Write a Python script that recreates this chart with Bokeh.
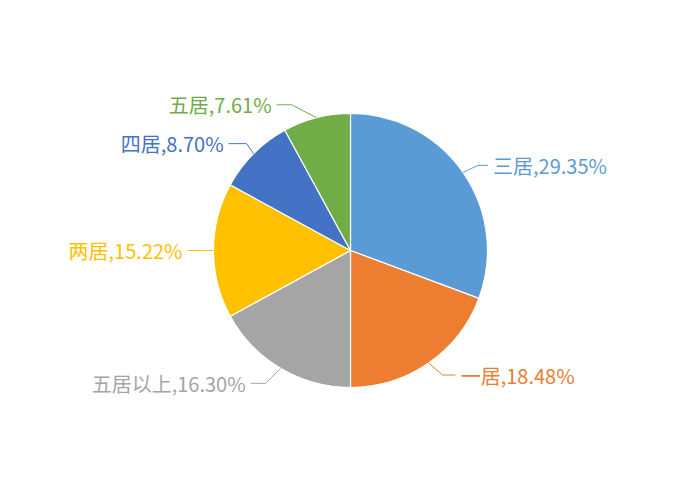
import math
from bokeh.plotting import figure
from bokeh.models import Range1d, ColumnDataSource
from bokeh.core.properties import value
from bokeh.embed import file_html
from bokeh.resources import INLINE

# Data
categories = ["三居", "一居", "五居以上", "两居", "四居", "五居"]
percents = [29.35, 18.48, 16.30, 15.22, 8.70, 7.61]
colors = ["#5B9BD5", "#ED7D31", "#A5A5A5", "#FFC000", "#4472C4", "#70AD47"]

# Layout (pixels, y downward): elbow offset from slice edge, horizontal run
elbow = [(15, -7), (14, 12), (-15, 15), (-8, 0), (-7, -10), (-25, -13)]
run = [10, 13, -15, -18, -18, -15]
GAP = 5

W, H = 684, 484
cx, cy, R = 350, 250, 137

p = figure(width=W, height=H, x_range=Range1d(0, W), y_range=Range1d(500 - H, 500),
           output_backend="svg", toolbar_location=None, min_border=0)
p.xaxis.visible = False
p.yaxis.visible = False
p.grid.visible = False
p.outline_line_color = None
p.background_fill_color = "white"
p.border_fill_color = "white"

total = sum(percents)
starts, ends, mids = [], [], []
cum = 0.0
for v in percents:
    a0 = cum / total * 2 * math.pi
    cum += v
    a1 = cum / total * 2 * math.pi
    starts.append(math.pi / 2 - a0)
    ends.append(math.pi / 2 - a1)
    mids.append((a0 + a1) / 2)

src = ColumnDataSource(dict(start=starts, end=ends, color=colors))
p.wedge(x=cx, y=cy, radius=R, start_angle="start", end_angle="end",
        direction="clock", fill_color="color", line_color="white",
        line_width=1.2, source=src)

xs, ys, tx, ty, labels, aligns = [], [], [], [], [], []
for i, th in enumerate(mids):
    ax = cx + R * math.sin(th)
    ay = cy + R * math.cos(th)
    ex = ax + elbow[i][0]
    ey = ay - elbow[i][1]
    hx = ex + run[i]
    xs.append([ax, ex, hx])
    ys.append([ay, ey, ey])
    if run[i] > 0:
        tx.append(hx + GAP)
        aligns.append("left")
    else:
        tx.append(hx - GAP)
        aligns.append("right")
    ty.append(ey)
    labels.append(f"{categories[i]},{percents[i]:.2f}%")

p.multi_line(xs=xs, ys=ys, line_color=colors, line_width=1)
lsrc = ColumnDataSource(dict(x=tx, y=ty, text=labels, align=aligns, color=colors))
p.text(x="x", y="y", text="text", text_align="align", text_baseline="middle",
       text_color="color", text_font=value("Noto Sans CJK SC"),
       text_font_size=value("20px"), source=lsrc)

open("out.html", "w").write(file_html(p, INLINE))
